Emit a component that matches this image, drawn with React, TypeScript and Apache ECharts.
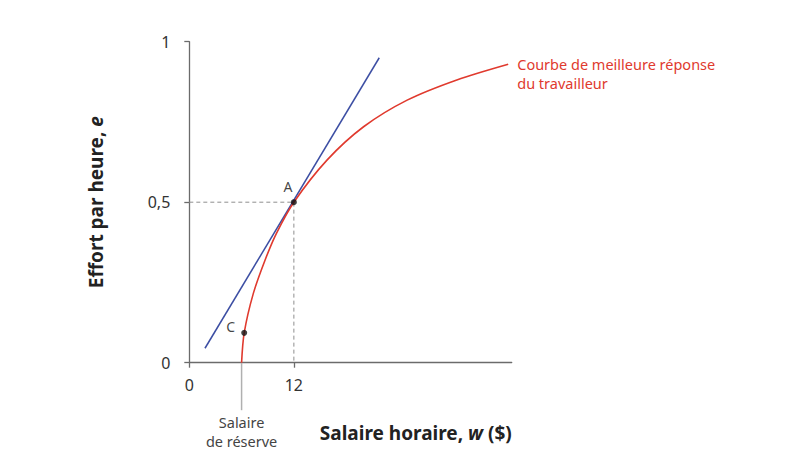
import React, { useEffect, useRef } from 'react';
import * as echarts from 'echarts';

// Tick values
const xTicks = [0, 12];
const yTicks = [0, 0.5, 1];

// Worker's best response curve (w, e)
const bestResponse: [number, number][] = [
  [6, 0],
  [6.3, 0.093],
  [7.35, 0.216],
  [8.7, 0.32],
  [10, 0.403],
  [12, 0.5],
  [15.8, 0.631],
  [20, 0.735],
  [25, 0.818],
  [30.7, 0.881],
  [36.6, 0.93],
];

// Blue straight line tangent at A
const tangentLine: [number, number][] = [
  [1.8, 0.045],
  [21.8, 0.95],
];

const pointA: [number, number] = [12, 0.5];
const pointC: [number, number] = [6.3, 0.093];
const reservationWage = 6;
const reservationDropEnd = -0.148;
const guideA: [number, number][] = [
  [0, 0.5],
  [12, 0.5],
  [12, 0],
];

const FONT = '"Noto Sans", "Open Sans", sans-serif';
const RED = '#e03a2e';
const BLUE = '#3c4ea3';
const AXIS = '#6b6b6b';

export default function App() {
  const ref = useRef<HTMLDivElement>(null);

  useEffect(() => {
    if (!ref.current) return;
    const chart = echarts.init(ref.current, null, { renderer: 'svg' });
    const reservationLine: [number, number][] = [
      [reservationWage, 0],
      [reservationWage, reservationDropEnd],
    ];
    chart.setOption({
      animation: false,
      backgroundColor: '#ffffff',
      grid: { left: 189.3, right: 298.3, top: 41.7, bottom: 95.3 },
      xAxis: {
        type: 'value',
        min: 0,
        max: 37,
        name: '{b|Salaire horaire, }{i|w}{b| (\$)}',
        nameLocation: 'end',
        nameGap: 0,
        nameTextStyle: {
          align: 'right',
          verticalAlign: 'top',
          padding: [61, 0, 0, 0],
          rich: {
            b: { fontFamily: FONT, fontSize: 19, fontWeight: 'bold', color: '#222' },
            i: { fontFamily: FONT, fontSize: 19, fontWeight: 'bold', fontStyle: 'italic', color: '#222' },
          },
        },
        axisLine: { show: true, lineStyle: { color: AXIS, width: 1.3 } },
        axisTick: { show: true, length: 5, customValues: xTicks, lineStyle: { color: AXIS, width: 1.3 } },
        axisLabel: { customValues: xTicks, margin: 14, fontSize: 16, color: '#333', fontFamily: FONT },
        splitLine: { show: false },
      },
      yAxis: {
        type: 'value',
        min: 0,
        max: 1,
        interval: 0.5,
        name: '{b|Effort par heure, }{i|e}',
        nameLocation: 'middle',
        nameGap: 84,
        nameTextStyle: {
          rich: {
            b: { fontFamily: FONT, fontSize: 19, fontWeight: 'bold', color: '#222' },
            i: { fontFamily: FONT, fontSize: 19, fontWeight: 'bold', fontStyle: 'italic', color: '#222' },
          },
        },
        axisLine: { show: true, lineStyle: { color: AXIS, width: 1.3 } },
        axisTick: { show: true, length: 5, customValues: yTicks, lineStyle: { color: AXIS, width: 1.3 } },
        axisLabel: {
          customValues: yTicks,
          margin: 19,
          fontSize: 16,
          color: '#333',
          fontFamily: FONT,
          formatter: (v: number) => String(v).replace('.', ','),
        },
        splitLine: { show: false },
      },
      series: [
        {
          type: 'line',
          data: guideA,
          symbol: 'none',
          silent: true,
          lineStyle: { color: '#8f8f8f', width: 1, type: [4, 3] },
          z: 1,
        },
        {
          type: 'line',
          data: reservationLine,
          symbol: 'none',
          clip: false,
          silent: true,
          lineStyle: { color: '#b0b0b0', width: 1.5 },
          z: 1,
        },
        {
          type: 'line',
          data: tangentLine,
          symbol: 'none',
          silent: true,
          lineStyle: { color: BLUE, width: 1.5 },
          z: 2,
        },
        {
          type: 'line',
          data: bestResponse,
          symbol: 'none',
          smooth: 0.3,
          silent: true,
          lineStyle: { color: RED, width: 1.6 },
          z: 3,
        },
        {
          type: 'scatter',
          symbolSize: 6,
          itemStyle: { color: '#111' },
          silent: true,
          z: 5,
          label: {
            show: true,
            fontFamily: FONT,
            fontSize: 14,
            color: '#111',
          },
          data: [
            { value: pointA, label: { formatter: 'A', position: 'top', offset: [-6, -1] } },
            { value: pointC, label: { formatter: 'C', position: 'left', offset: [-1, -6] } },
          ],
        },
      ],
    });

    const endPt = bestResponse[bestResponse.length - 1];
    const pEnd = chart.convertToPixel({ gridIndex: 0 }, endPt) as number[];
    const pRes = chart.convertToPixel({ gridIndex: 0 }, [reservationWage, reservationDropEnd]) as number[];
    chart.setOption({
      graphic: [
        {
          type: 'text',
          x: pEnd[0] + 9,
          y: pEnd[1] - 10,
          silent: true,
          style: {
            text: 'Courbe de meilleure réponse\ndu travailleur',
            fontFamily: FONT,
            fontSize: 14.5,
            lineHeight: 19,
            fill: RED,
            align: 'left',
            verticalAlign: 'top',
          },
        },
        {
          type: 'text',
          x: pRes[0],
          y: pRes[1] + 2,
          silent: true,
          style: {
            text: 'Salaire\nde réserve',
            fontFamily: FONT,
            fontSize: 14.5,
            lineHeight: 19,
            fill: '#444',
            align: 'center',
            verticalAlign: 'top',
          },
        },
      ],
    });

    return () => chart.dispose();
  }, []);

  return (
    <div
      ref={ref}
      style={{ position: 'absolute', left: 0, top: 0, width: 810, height: 458 }}
    />
  );
}
